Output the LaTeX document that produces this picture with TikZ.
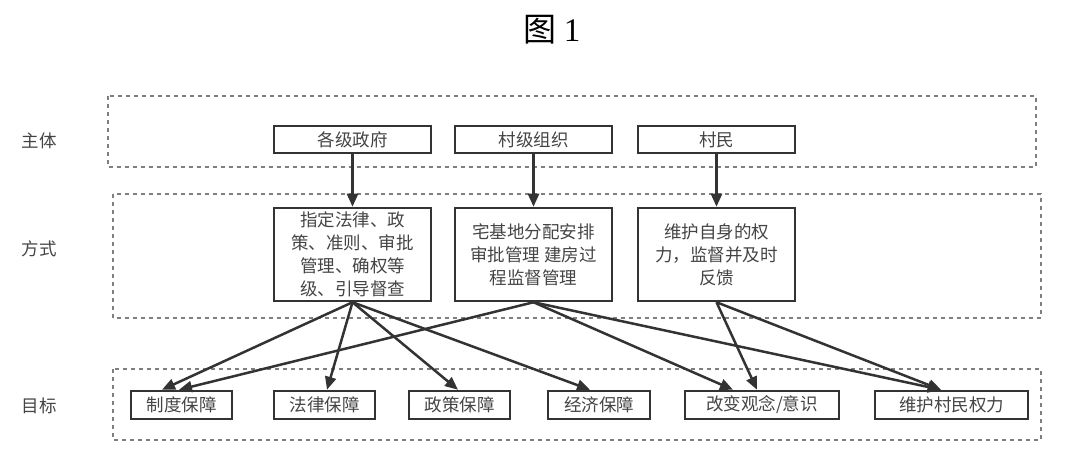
\documentclass[tikz,border=0pt]{standalone}
\usepackage{fontspec}
\setmainfont{Noto Sans CJK SC}
\newfontfamily\serifnum{Liberation Serif}
\usetikzlibrary{arrows.meta}
\definecolor{ink}{HTML}{333333}
\definecolor{txt}{HTML}{444444}
\definecolor{dashc}{HTML}{7F7F7F}
\begin{document}
\begin{tikzpicture}[x=1pt,y=-1pt,
  region/.style={draw=dashc, line width=2pt, dash pattern=on 4pt off 4pt},
  box/.style={draw=ink, line width=2.5pt, text=txt, font=\fontsize{17.5}{23}\selectfont, align=center, inner sep=0pt},
  topbox/.style={box, minimum width=157pt, minimum height=27pt},
  midbox/.style={box, minimum width=157pt, minimum height=93pt},
  botbox/.style={box, minimum height=28pt},
  lab/.style={text=txt, font=\fontsize{17.5}{23}\selectfont},
  arr/.style={draw=ink, line width=2.5pt, -{Triangle[length=13pt,width=11pt]}}
]
\useasboundingbox (0,0) rectangle (1068,465);
% title
\node[font=\fontsize{33}{33}\selectfont, text=black] (title) at (552,30) {图 {\serifnum 1}};
% regions
\draw[region] (108,96) rectangle (1036,167);
\draw[region] (113,194) rectangle (1041,318);
\draw[region] (113,369) rectangle (1041,440);
% row labels
\node[lab] (l1) at (39,141) {主体};
\node[lab] (l2) at (39,249) {方式};
\node[lab] (l3) at (39,406) {目标};
% top boxes
\node[topbox] (g) at (352.5,139.5) {各级政府};
\node[topbox] (c) at (533.5,139.5) {村级组织};
\node[topbox] (v) at (716.5,139.5) {村民};
% middle boxes
\node[midbox] (m1) at (352.5,254.5) {指定法律、政\\策、准则、审批\\管理、确权等\\级、引导督查};
\node[midbox] (m2) at (533.5,254.5) {宅基地分配安排\\审批管理 建房过\\程监督管理};
\node[midbox] (m3) at (716.5,254.5) {维护自身的权\\力，监督并及时\\反馈};
% bottom boxes
\node[botbox, minimum width=101pt] (b1) at (181.5,405) {制度保障};
\node[botbox, minimum width=101pt] (b2) at (324.5,405) {法律保障};
\node[botbox, minimum width=101pt] (b3) at (459.5,405) {政策保障};
\node[botbox, minimum width=102pt] (b4) at (599,405) {经济保障};
\node[botbox, minimum width=154pt] (b5) at (762,405) {改变观念/意识};
\node[botbox, minimum width=153pt] (b6) at (951.5,405) {维护村民权力};
% arrows top -> middle
\draw[arr] (g.south) -- (m1.north);
\draw[arr] (c.south) -- (m2.north);
\draw[arr] (v.south) -- (m3.north);
% arrows middle -> bottom
\draw[arr] (m1.south) -- ([xshift=-19.5pt]b1.north);
\draw[arr] (m2.south) -- ([xshift=-2.5pt]b1.north);
\draw[arr] (m1.south) -- ([xshift=2.5pt]b2.north);
\draw[arr] (m1.south) -- ([xshift=-1.5pt]b3.north);
\draw[arr] (m1.south) -- ([xshift=-9pt]b4.north);
\draw[arr] (m2.south) -- ([xshift=-29pt]b5.north);
\draw[arr] (m3.south) -- ([xshift=-5pt]b5.north);
\draw[arr] (m2.south) -- ([xshift=-10.5pt]b6.north);
\draw[arr] (m3.south) -- ([xshift=-10.5pt]b6.north);
\end{tikzpicture}
\end{document}
